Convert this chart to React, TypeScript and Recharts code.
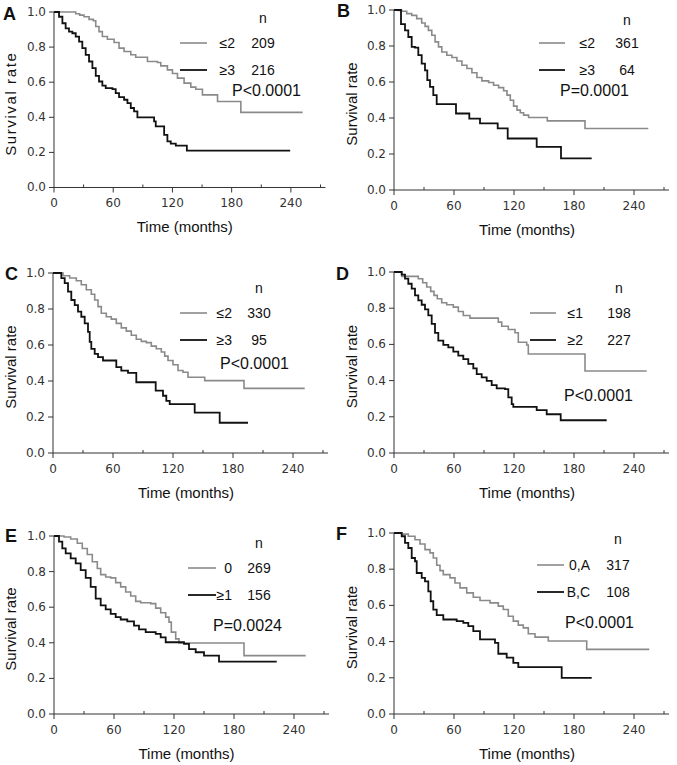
import React from "react";
import { LineChart, Line, XAxis, YAxis } from "recharts";

type Pt = [number, number];

// axis ticks
const timeTicks = [0, 30, 60, 90, 120, 150, 180, 210, 240, 270];
const rateTicks = [0, 0.2, 0.4, 0.6, 0.8, 1.0];

// A
const aLow: Pt[] = [[0,1],[18.6,1],[22,0.99],[26,0.982],[30.4,0.973],[35.5,0.958],[39.9,0.95],[42.3,0.917],[45.6,0.888],[49,0.86],[54.1,0.845],[60.9,0.826],[65.9,0.794],[71,0.775],[77.8,0.756],[82.8,0.742],[94.7,0.718],[104.8,0.712],[108.2,0.693],[114.9,0.67],[120,0.65],[125.1,0.623],[131.8,0.595],[138.6,0.572],[143.7,0.56],[150.4,0.528],[165.7,0.49],[189.3,0.428],[251.9,0.428]];
const aHigh: Pt[] = [[0,1],[5.1,0.973],[8.5,0.936],[11.8,0.907],[15.2,0.888],[18.6,0.879],[22,0.86],[25.4,0.831],[28.7,0.794],[32.1,0.756],[35.5,0.718],[38.9,0.68],[42.3,0.636],[45.6,0.604],[49,0.58],[52.4,0.566],[59.2,0.561],[62.5,0.538],[65.9,0.515],[71,0.5],[74.4,0.481],[77.8,0.453],[81.1,0.434],[84.5,0.4],[101.4,0.377],[103.1,0.348],[111.6,0.3],[114.9,0.263],[118.3,0.25],[123.4,0.239],[134.6,0.21],[239.3,0.21]];
const groupsA = ["≤2", "≥3"];
const countsA = [209, 216];
const pA = "P<0.0001";

// B
const bLow: Pt[] = [[0,1],[4.3,0.998],[7.7,0.993],[12.7,0.98],[17.7,0.97],[22.7,0.952],[27.7,0.928],[31.1,0.909],[34.4,0.887],[37.8,0.86],[41.1,0.823],[44.5,0.795],[47.8,0.767],[52.8,0.749],[57.9,0.736],[62.9,0.717],[67.9,0.693],[72.9,0.675],[77.9,0.651],[82.9,0.625],[87.9,0.606],[94.6,0.597],[99.6,0.582],[104.6,0.569],[109.6,0.551],[113,0.527],[116.3,0.499],[119.6,0.466],[123,0.444],[126.3,0.429],[129.6,0.416],[134.6,0.403],[153.3,0.384],[191,0.342],[254.3,0.342]];
const bHigh: Pt[] = [[0,1],[7,0.922],[11,0.887],[14.3,0.85],[17.7,0.795],[21,0.791],[24.3,0.749],[27.7,0.702],[31,0.665],[33.3,0.61],[36,0.573],[39.3,0.527],[42.7,0.477],[62,0.425],[75.3,0.397],[86,0.37],[103.7,0.342],[113.7,0.286],[142.7,0.24],[167,0.176],[197.7,0.176]];
const groupsB = ["≤2", "≥3"];
const countsB = [361, 64];
const pB = "P=0.0001";

// C
const cLow: Pt[] = [[0,1],[10,0.985],[16.7,0.972],[23.3,0.957],[28.3,0.935],[33.3,0.907],[38.3,0.882],[41.7,0.85],[45,0.813],[48.3,0.776],[53.3,0.757],[58.3,0.744],[63.3,0.72],[68.3,0.695],[73.3,0.677],[78.3,0.654],[83.3,0.632],[88.3,0.62],[93.3,0.613],[98.3,0.594],[103.3,0.579],[108.3,0.561],[111.7,0.538],[115,0.514],[120,0.49],[125,0.458],[130,0.449],[135,0.421],[151.7,0.402],[191,0.359],[251.7,0.359]];
const cHigh: Pt[] = [[0,1],[3,1],[8.3,0.972],[11.7,0.944],[15,0.897],[18.3,0.85],[21.7,0.822],[25,0.785],[28.3,0.757],[31.7,0.72],[35,0.673],[36.7,0.617],[38.3,0.579],[41.7,0.551],[45,0.533],[50,0.514],[63.3,0.477],[68.3,0.458],[75,0.445],[83.3,0.393],[102.7,0.346],[110,0.318],[113.3,0.29],[116.7,0.271],[141.7,0.224],[166.7,0.168],[195,0.168]];
const groupsC = ["≤2", "≥3"];
const countsC = [330, 95];
const pC = "P<0.0001";

// D
const dLow: Pt[] = [[0,1],[7.7,0.976],[24.3,0.963],[28.7,0.941],[32.7,0.917],[36.7,0.893],[40,0.871],[43.3,0.852],[47.7,0.83],[52.7,0.819],[59.3,0.806],[64.3,0.782],[69.3,0.76],[76,0.745],[104.3,0.723],[107.7,0.7],[114.3,0.682],[121,0.664],[124.3,0.612],[132.7,0.597],[134.3,0.547],[191,0.453],[252.7,0.453]];
const dHigh: Pt[] = [[0,1],[7.7,0.985],[11,0.963],[14.3,0.935],[17.7,0.908],[21,0.871],[24.3,0.843],[27.7,0.819],[31,0.793],[34.3,0.76],[37.7,0.713],[41,0.664],[44.3,0.621],[49.3,0.597],[54.3,0.584],[59.3,0.56],[64.3,0.538],[69.3,0.519],[74.3,0.492],[79.3,0.468],[82.7,0.436],[87.7,0.418],[92.7,0.399],[97.7,0.375],[102.7,0.357],[111,0.353],[114.3,0.307],[117.7,0.27],[119.3,0.255],[142.7,0.237],[152.7,0.214],[166.7,0.181],[212.7,0.181]];
const groupsD = ["≤1", "≥2"];
const countsD = [198, 227];
const pD = "P<0.0001";

// E
const eLow: Pt[] = [[0,1],[10,0.994],[16.7,0.983],[23.3,0.959],[28.3,0.93],[33.3,0.896],[38.3,0.855],[43.3,0.817],[46.7,0.783],[51.7,0.77],[56.7,0.765],[61.7,0.738],[66.7,0.714],[71.7,0.685],[76.7,0.663],[81.7,0.633],[86.7,0.625],[96.7,0.62],[101.7,0.595],[106.7,0.569],[111.7,0.544],[115,0.516],[117.3,0.46],[121.7,0.422],[125,0.399],[190,0.328],[251.7,0.328]];
const eHigh: Pt[] = [[0,1],[5,0.968],[8.3,0.93],[11.7,0.902],[16.7,0.874],[21.7,0.846],[26.7,0.808],[31.7,0.765],[36.7,0.714],[41.7,0.648],[46.7,0.61],[51.7,0.588],[56.7,0.563],[61.7,0.544],[66.7,0.531],[73.3,0.52],[80,0.497],[85,0.475],[91.7,0.46],[101.7,0.45],[106.7,0.431],[111.7,0.403],[130,0.394],[135,0.365],[141.7,0.347],[150,0.328],[165,0.294],[222.7,0.294]];
const groupsE = ["0", "≥1"];
const countsE = [269, 156];
const pE = "P=0.0024";

// F
const fLow: Pt[] = [[0,1],[7.7,0.994],[14.3,0.982],[21,0.963],[26,0.939],[31,0.908],[36,0.89],[39.3,0.862],[42.7,0.822],[46,0.792],[49.3,0.77],[56,0.752],[61,0.724],[66,0.697],[72.7,0.669],[79.3,0.645],[86,0.627],[96,0.614],[104.3,0.596],[109.3,0.577],[114.3,0.54],[119.3,0.513],[124.3,0.491],[129.3,0.476],[134.3,0.443],[141,0.425],[154.3,0.403],[192.7,0.357],[255.3,0.357]];
const fHigh: Pt[] = [[0,1],[7.7,0.982],[11,0.945],[14.3,0.917],[17.7,0.862],[21,0.844],[22.7,0.779],[27.7,0.752],[31,0.733],[34.3,0.678],[36.7,0.623],[39.3,0.577],[42.7,0.546],[49.3,0.522],[62.7,0.513],[69.3,0.504],[74.3,0.485],[79.3,0.458],[86,0.412],[101,0.393],[104.3,0.333],[112.7,0.311],[119.3,0.283],[124.3,0.259],[167.7,0.2],[197.7,0.2]];
const groupsF = ["0,A", "B,C"];
const countsF = [317, 108];
const pF = "P<0.0001";

const GRAY = "#8a8a8a";
const BLACK = "#111";
const AXIS = "#333";
const TICK_FONT = "'DejaVu Sans', Verdana, sans-serif";
const TEXT_FONT = "'Liberation Sans', Arial, sans-serif";

const panels = [
  { letter: "A", low: aLow, high: aHigh, groups: groupsA, counts: countsA, p: pA,
    plotX: 53.5, plotTop: 12, plotBottom: 187.5, pxm: 0.987, letterX: 3, letterY: 20,
    leg: { nX: 263, nY: 18, lx1: 180, lx2: 207, y1: 43, y2: 70, labX: 235, pX: 232, pY: 90 } },
  { letter: "B", low: bLow, high: bHigh, groups: groupsB, counts: countsB, p: pB,
    plotX: 394, plotTop: 10, plotBottom: 190, pxm: 1.0, letterX: 337, letterY: 17,
    leg: { nX: 627, nY: 20, lx1: 539, lx2: 565, y1: 43, y2: 70, labX: 595, pX: 560, pY: 90 } },
  { letter: "C", low: cLow, high: cHigh, groups: groupsC, counts: countsC, p: pC,
    plotX: 53, plotTop: 273, plotBottom: 453, pxm: 1.0, letterX: 5, letterY: 280,
    leg: { nX: 259, nY: 288, lx1: 180, lx2: 207, y1: 313, y2: 340, labX: 232, pX: 220, pY: 363 } },
  { letter: "D", low: dLow, high: dHigh, groups: groupsD, counts: countsD, p: pD,
    plotX: 394, plotTop: 272, plotBottom: 453, pxm: 1.0, letterX: 336, letterY: 280,
    leg: { nX: 619, nY: 288, lx1: 530, lx2: 556, y1: 313, y2: 340, labX: 583, pX: 564, pY: 395 } },
  { letter: "E", low: eLow, high: eHigh, groups: groupsE, counts: countsE, p: pE,
    plotX: 53.5, plotTop: 536, plotBottom: 714, pxm: 1.0, letterX: 5, letterY: 542,
    leg: { nX: 259, nY: 543, lx1: 188, lx2: 216, y1: 568, y2: 595, labX: 232, pX: 213, pY: 625 } },
  { letter: "F", low: fLow, high: fHigh, groups: groupsF, counts: countsF, p: pF,
    plotX: 394, plotTop: 533, plotBottom: 714, pxm: 1.0, letterX: 336, letterY: 540,
    leg: { nX: 618, nY: 539, lx1: 537, lx2: 564, y1: 565, y2: 592, labX: 590, pX: 565, pY: 622 } },
];

const toRows = (pts: Pt[]) => pts.map(([t, s]) => ({ t, s }));

const XTick = (props: any) => {
  const { x, y, payload } = props;
  const v = payload.value;
  if (v % 60 === 0) {
    return (
      <g>
        <line x1={x} y1={y} x2={x} y2={y + 5} stroke={AXIS} />
        <text x={x} y={y + 20} textAnchor="middle" fontSize={12} fontFamily={TICK_FONT} fill={AXIS}>
          {v}
        </text>
      </g>
    );
  }
  return <line x1={x} y1={y - 3} x2={x} y2={y} stroke={AXIS} />;
};

const YTick = (props: any) => {
  const { x, y, payload } = props;
  return (
    <g>
      <line x1={x - 5} y1={y} x2={x} y2={y} stroke={AXIS} />
      <text x={x - 8} y={y + 4} textAnchor="end" fontSize={12} fontFamily={TICK_FONT} fill={AXIS}>
        {Number(payload.value).toFixed(1)}
      </text>
    </g>
  );
};

function KMPanel({ cfg }: { cfg: (typeof panels)[number] }) {
  const plotW = 275 * cfg.pxm;
  const plotH = cfg.plotBottom - cfg.plotTop;
  return (
    <div style={{ position: "absolute", left: cfg.plotX - 50, top: cfg.plotTop - 10 }}>
      <LineChart
        width={50 + plotW + 10}
        height={10 + plotH + 30}
        margin={{ top: 10, right: 10, left: 10, bottom: 0 }}
      >
        <XAxis
          dataKey="t"
          type="number"
          domain={[0, 275]}
          ticks={timeTicks}
          interval={0}
          height={30}
          tickSize={0}
          tickMargin={0}
          tickLine={false}
          tick={<XTick />}
          axisLine={{ stroke: AXIS }}
          allowDataOverflow
        />
        <YAxis
          type="number"
          domain={[0, 1]}
          ticks={rateTicks}
          interval={0}
          width={40}
          tickSize={0}
          tickMargin={0}
          tickLine={false}
          tick={<YTick />}
          axisLine={{ stroke: AXIS }}
        />
        <Line data={toRows(cfg.low)} dataKey="s" type="stepAfter" stroke={GRAY} strokeWidth={1.6} dot={false} isAnimationActive={false} />
        <Line data={toRows(cfg.high)} dataKey="s" type="stepAfter" stroke={BLACK} strokeWidth={1.8} dot={false} isAnimationActive={false} />
      </LineChart>
    </div>
  );
}

function Overlay() {
  return (
    <svg width={677} height={765} style={{ position: "absolute", left: 0, top: 0, pointerEvents: "none" }}>
      {panels.map((c) => {
        const L = c.leg;
        const midY = (c.plotTop + c.plotBottom) / 2 + 4;
        const yTitleX = c.plotX - 43;
        return (
          <g key={c.letter} fontFamily={TEXT_FONT} fill="#111">
            <text x={c.letterX} y={c.letterY} fontSize={18} fontWeight="bold">{c.letter}</text>
            <text
              x={yTitleX}
              y={midY}
              fontSize={15}
              textAnchor="middle"
              dominantBaseline="central"
              transform={`rotate(-90 ${yTitleX} ${midY})`}
              letterSpacing={c.letter === "A" ? 1.6 : 0}
            >
              Survival rate
            </text>
            <text x={c.plotX + 133 * c.pxm} y={c.plotBottom + 39} fontSize={15} textAnchor="middle" dominantBaseline="central">
              Time (months)
            </text>
            <text x={L.nX} y={L.nY} fontSize={14} textAnchor="middle" dominantBaseline="central">n</text>
            <line x1={L.lx1} x2={L.lx2} y1={L.y1} y2={L.y1} stroke={GRAY} strokeWidth={1.6} />
            <line x1={L.lx1} x2={L.lx2} y1={L.y2} y2={L.y2} stroke={BLACK} strokeWidth={1.8} />
            <text x={L.labX} y={L.y1} fontSize={14} textAnchor="end" dominantBaseline="central">{c.groups[0]}</text>
            <text x={L.labX} y={L.y2} fontSize={14} textAnchor="end" dominantBaseline="central">{c.groups[1]}</text>
            <text x={L.nX} y={L.y1} fontSize={14} textAnchor="middle" dominantBaseline="central">{c.counts[0]}</text>
            <text x={L.nX} y={L.y2} fontSize={14} textAnchor="middle" dominantBaseline="central">{c.counts[1]}</text>
            <text x={L.pX} y={L.pY} fontSize={16} dominantBaseline="central">{c.p}</text>
          </g>
        );
      })}
    </svg>
  );
}

export default function App() {
  return (
    <div style={{ position: "absolute", left: 0, top: 0, width: 677, height: 765, background: "#fff" }}>
      {panels.map((c) => (
        <KMPanel key={c.letter} cfg={c} />
      ))}
      <Overlay />
    </div>
  );
}
